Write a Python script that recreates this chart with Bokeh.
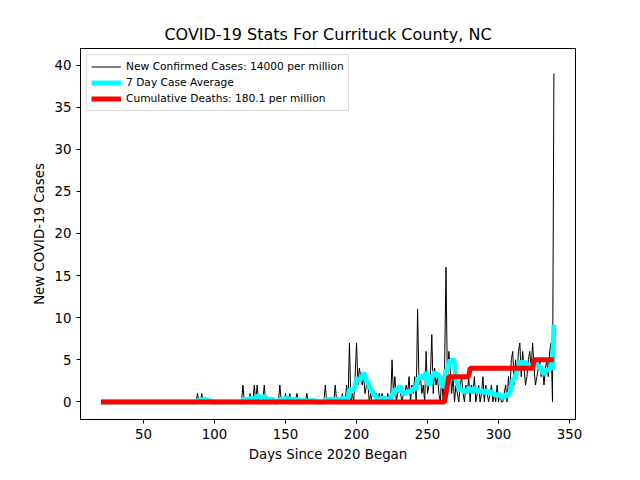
import numpy as np
import pandas as pd

from bokeh.plotting import figure
from bokeh.models import Range1d, Legend, LegendItem
from bokeh.embed import file_html
from bokeh.resources import INLINE

start_day = 20
cases = (
    [0] * 60
    + [0, 0, 0, 0, 0, 0, 0, 0, 1, 0, 0, 1, 0, 0, 0, 0, 0, 0, 0, 0]
    + [0] * 20
    + [2, 0, 0, 0, 0, 1, 0, 0, 2, 0, 2, 0, 0, 0, 0, 2, 0, 0, 0, 0]
    + [0, 0, 0, 0, 0, 0, 2, 0, 0, 0, 1, 0, 0, 1, 0, 0, 0, 0, 1, 0]
    + [0, 0, 0, 0, 0, 1, 0, 0, 0, 0, 0, 0, 0, 0, 0, 0, 0, 0, 2, 0]
    + [0, 0, 0, 0, 0, 2, 0, 0, 0, 0, 1, 0, 0, 2, 0, 7, 0, 1, 0, 3]
    + [7, 2, 4, 3, 2, 3, 1, 2, 2, 0, 1, 0, 0, 0, 1, 0, 1, 0, 1, 0]
    + [0, 0, 1, 0, 0, 5, 1, 3, 0, 1, 2, 1, 0, 1, 1, 2, 1, 3, 0, 2]
    + [1, 3, 0, 11, 2, 3, 1, 2, 0, 6, 1, 2, 3, 8, 1, 4, 2, 3, 1, 0]
    + [3, 0, 4, 16, 2, 6, 4, 1, 3, 0, 2, 1, 0, 2, 3, 1, 0, 2, 1, 3]
    + [0, 2, 1, 3, 0, 1, 2, 0, 1, 3, 0, 2, 1, 0, 1, 2, 0, 1, 0, 2]
    + [0, 1, 0, 0, 1, 2, 0, 3, 1, 5, 6, 2, 5, 3, 6, 7, 3, 6, 4, 2]
    + [3, 5, 6, 4, 7, 4, 2, 3, 4, 5, 3, 4, 2, 4, 5, 3, 6, 7, 0, 39]
)
days = list(range(start_day, start_day + len(cases)))
avg7 = pd.Series(cases).rolling(7, min_periods=1).mean().tolist()

death_days = [20, 262, 265, 279, 280, 324, 325, 339]
death_vals = [0, 0, 3, 3, 4, 4, 5, 5]

font = "DejaVu Sans"
p = figure(width=624, height=464, output_backend="svg", toolbar_location=None,
           x_range=Range1d(5.6, 354.2), y_range=Range1d(-2.09, 41.97),
           min_border_left=80, min_border_right=49, min_border_top=48,
           min_border_bottom=36, title="COVID-19 Stats For Currituck County, NC",
           x_axis_label="Days Since 2020 Began", y_axis_label="New COVID-19 Cases")
p.title.align = "center"
p.title.text_font = font
p.title.text_font_size = "12pt"
p.title.text_font_style = "normal"
p.title.text_color = "black"
p.grid.visible = False
p.outline_line_color = "black"
for ax in (p.xaxis, p.yaxis):
    ax.axis_label_text_font = font
    ax.axis_label_text_font_size = "10pt"
    ax.axis_label_text_font_style = "normal"
    ax.axis_label_text_color = "black"
    ax.major_label_text_font = font
    ax.major_label_text_font_size = "10pt"
    ax.major_label_text_color = "black"
    ax.axis_line_color = "black"
    ax.major_tick_line_color = "black"
    ax.minor_tick_line_color = None
    ax.major_tick_in = 0
    ax.major_tick_out = 4
p.xaxis.ticker = [50, 100, 150, 200, 250, 300, 350]
p.yaxis.ticker = [0, 5, 10, 15, 20, 25, 30, 35, 40]

r1 = p.line(days, cases, color="black", line_width=1)
r2 = p.line(days, avg7, color="cyan", line_width=5)
r3 = p.line(death_days, death_vals, color="red", line_width=5)

legend = Legend(items=[
    LegendItem(label="New Confirmed Cases: 14000 per million", renderers=[r1]),
    LegendItem(label="7 Day Case Average", renderers=[r2]),
    LegendItem(label="Cumulative Deaths: 180.1 per million", renderers=[r3]),
], location="top_left", label_text_font=font, label_text_font_size="8pt",
    label_text_color="black",
    border_line_color="#bbbbbb", spacing=1, padding=4, label_height=15,
    glyph_height=15, glyph_width=30, margin=6)
p.add_layout(legend)

open("out.html", "w").write(file_html(p, INLINE))
